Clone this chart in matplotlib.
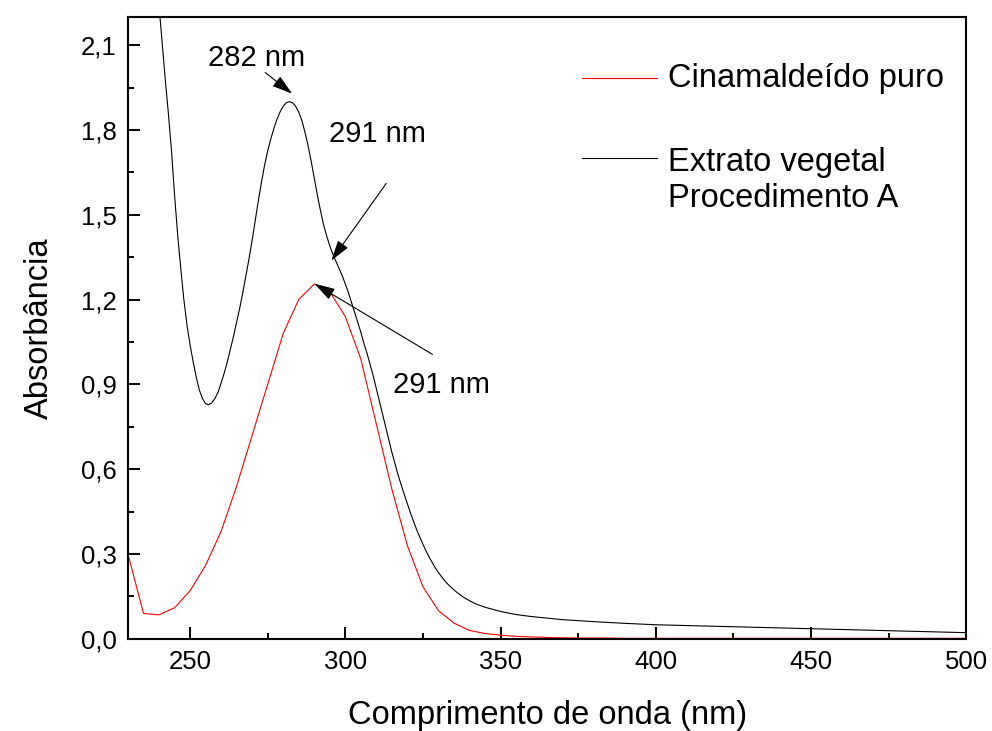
import matplotlib
matplotlib.use("Agg")
import matplotlib.pyplot as plt
from matplotlib.ticker import MultipleLocator, FuncFormatter
from matplotlib.lines import Line2D

plt.rcParams['font.family'] = ['Liberation Sans', 'DejaVu Sans']

# Cinamaldeído puro (red), sampled every 5 nm
red_x = [230, 235, 240, 245, 250, 255, 260, 265, 270, 275, 280, 285, 290, 295,
         300, 305, 310, 315, 320, 325, 330, 335, 340, 345, 350, 355, 360, 365,
         370, 375, 380, 385, 390, 395, 400, 405, 410, 415, 420, 425, 430, 435,
         440, 445, 450, 455, 460, 465, 470, 475, 480, 485, 490, 495, 500]
red_y = [0.30, 0.09, 0.085, 0.11, 0.17, 0.26, 0.38, 0.54, 0.72, 0.90, 1.08, 1.20,
         1.255, 1.228, 1.14, 0.99, 0.76, 0.53, 0.33, 0.185, 0.10, 0.056, 0.030,
         0.019, 0.013, 0.009, 0.007, 0.005, 0.004, 0.003, 0.003, 0.003, 0.002,
         0.002, 0.002, 0.002, 0.002, 0.002, 0.002, 0.002, 0.002, 0.002, 0.002,
         0.002, 0.002, 0.002, 0.002, 0.002, 0.002, 0.002, 0.002, 0.002, 0.002,
         0.002, 0.002]

# Extrato vegetal - Procedimento A (black)
blk_x = [239, 240, 241, 242, 243, 244, 245, 246, 247, 248, 249, 250, 251, 252,
         253, 254, 255, 256, 257, 258, 259, 260, 261, 262, 263, 264, 265, 266,
         267, 268, 269, 270, 271, 272, 273, 274, 275, 276, 277, 278, 279, 280,
         281, 282, 283, 284, 285, 286, 287, 288, 289, 290, 291, 292, 293, 294,
         295, 296, 297, 298, 299, 300, 301, 302, 303, 304, 305, 306, 307, 308,
         309, 310, 311, 312, 313, 314, 315, 316, 317, 318, 319, 320, 321, 322,
         323, 324, 325, 326, 327, 328, 329, 330, 331, 332, 333, 334, 336, 338,
         340, 342, 345, 348, 350, 355, 360, 370, 380, 390, 400, 425, 450, 475,
         500]
blk_y = [2.36, 2.24, 2.11, 1.98, 1.86, 1.73, 1.57, 1.43, 1.31, 1.20, 1.11, 1.04,
         0.98, 0.925, 0.88, 0.85, 0.832, 0.828, 0.835, 0.85, 0.872, 0.905, 0.94,
         0.98, 1.025, 1.07, 1.12, 1.17, 1.225, 1.285, 1.345, 1.41, 1.48, 1.55,
         1.615, 1.675, 1.725, 1.768, 1.805, 1.838, 1.864, 1.884, 1.896, 1.90,
         1.896, 1.884, 1.863, 1.834, 1.792, 1.745, 1.69, 1.63, 1.57, 1.515, 1.465,
         1.425, 1.39, 1.36, 1.335, 1.31, 1.285, 1.255, 1.225, 1.19, 1.155, 1.12,
         1.085, 1.045, 1.01, 0.97, 0.93, 0.885, 0.84, 0.795, 0.75, 0.705, 0.66,
         0.62, 0.58, 0.545, 0.51, 0.478, 0.445, 0.415, 0.386, 0.36, 0.335, 0.311,
         0.29, 0.27, 0.251, 0.235, 0.22, 0.206, 0.194, 0.183, 0.164, 0.148, 0.135,
         0.124, 0.112, 0.103, 0.097, 0.086, 0.079, 0.068, 0.061, 0.055, 0.050,
         0.043, 0.036, 0.029, 0.022]

fig = plt.figure(figsize=(9.92, 7.31), dpi=100)
ax = fig.add_axes([0.129, 0.126, 0.845, 0.851])

ax.plot(blk_x, blk_y, color='black', lw=0.8)
ax.plot(red_x, red_y, color='red', lw=0.8)

ax.set_xlim(230, 500)
ax.set_ylim(0, 2.2)
ax.xaxis.set_major_locator(MultipleLocator(50))
ax.xaxis.set_minor_locator(MultipleLocator(25))
ax.yaxis.set_major_locator(MultipleLocator(0.3))
ax.yaxis.set_minor_locator(MultipleLocator(0.15))
ax.yaxis.set_major_formatter(FuncFormatter(lambda v, p: f"{v:.1f}".replace('.', ',')))

ax.tick_params(which='both', direction='in', width=1.4, top=False, right=False,
               labelsize=18.5)
ax.tick_params(which='major', length=8.6, pad=8)
ax.tick_params(which='minor', length=4.3)
for s in ax.spines.values():
    s.set_linewidth(1.5)

ax.set_xlabel('Comprimento de onda (nm)', fontsize=23.5, labelpad=19)
ax.set_ylabel('Absorbância', fontsize=23.5, labelpad=19)

# Annotations
ax.text(271.4, 2.054, '282 nm', fontsize=21, ha='center', va='center')
ax.text(310.4, 1.786, '291 nm', fontsize=21, ha='center', va='center')
ax.text(331.1, 0.897, '291 nm', fontsize=21, ha='center', va='center')
arrow = dict(arrowstyle='-|>,head_length=0.6,head_width=0.18', color='black',
             lw=0.8, shrinkA=0, shrinkB=0)
ax.annotate('', xy=(282.9, 1.928), xytext=(274.2, 2.003), arrowprops=arrow, fontsize=21)
ax.annotate('', xy=(295.5, 1.338), xytext=(313.2, 1.611), arrowprops=arrow, fontsize=21)
ax.annotate('', xy=(290.1, 1.256), xytext=(328.1, 1.006), arrowprops=arrow, fontsize=21)

# Legend drawn manually
ax.add_line(Line2D([0.542, 0.631], [0.901, 0.901], transform=ax.transAxes,
                   color='red', lw=0.8))
ax.text(0.644, 0.901, 'Cinamaldeído puro', transform=ax.transAxes,
        fontsize=23.5, va='center', ha='left')
ax.add_line(Line2D([0.542, 0.631], [0.773, 0.773], transform=ax.transAxes,
                   color='black', lw=0.8))
ax.text(0.644, 0.737, 'Extrato vegetal\nProcedimento A', transform=ax.transAxes,
        fontsize=23.5, va='center', ha='left', linespacing=1.2)

fig.savefig('out.png', dpi=100)
